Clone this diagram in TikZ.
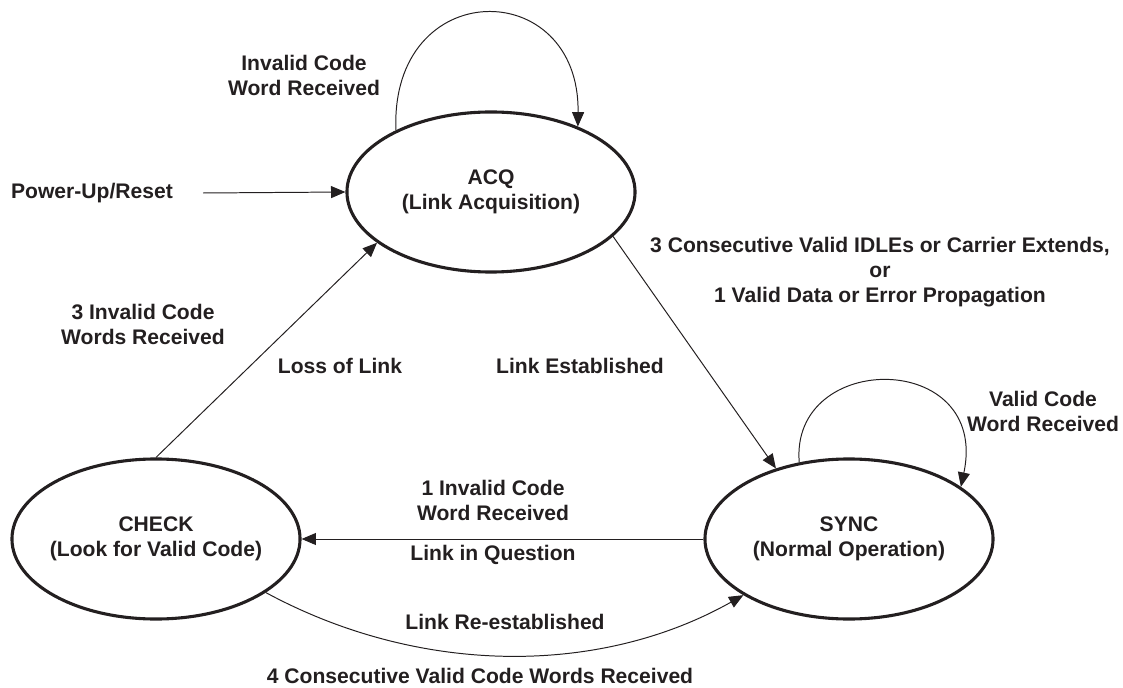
\documentclass[tikz,border=0pt]{standalone}
\usepackage{fontspec}
\setmainfont{Liberation Sans}
\usetikzlibrary{shapes.geometric,arrows.meta}
\definecolor{ink}{HTML}{231F20}

\begin{document}
\begin{tikzpicture}[x=0.025cm,y=-0.025cm,
  state/.style={draw=ink,ellipse,line width=2.2pt,minimum width=7.2cm,minimum height=4cm,inner sep=0pt},
  trans/.style={draw=ink,line width=0.7pt,-{Triangle[length=0.36cm,width=0.3cm]}},
  lbl/.style={text=ink,align=center,font=\fontsize{15}{17.8}\selectfont\bfseries}]

\useasboundingbox (0,0) rectangle (1123,688);

% states:
\node[state,label={[lbl]center:{ACQ\\(Link Acquisition)}}] (acq) at (491,192) {};
\node[state,label={[lbl]center:{CHECK\\(Look for Valid Code)}}] (check) at (156,539) {};
\node[state,label={[lbl]center:{SYNC\\(Normal Operation)}}] (sync) at (849,539) {};

% transitions:
\coordinate (pwr) at (203,193);
\draw[trans] (pwr) -- (acq.west);
\draw[trans] (acq.147) .. controls (390,-25) and (580,-25) .. (acq.37);
\draw[trans] (acq.-20) -- (sync.136);
\draw[trans] (sync.123) .. controls (790,350) and (990,350) .. (sync.25);
\draw[trans] (sync.west) -- (check.east);
\draw[trans] (check.north) -- (acq.-156);
\draw[trans] (check.-26) .. controls (420,676) and (600,676) .. (sync.-152);

% labels:
\node[lbl] (lacqloop) at (304,75) {Invalid Code\\Word Received};
\node[lbl] (lpwr) at (92,193) {Power-Up/Reset};
\node[lbl] (lcons) at (880,272) {3 Consecutive Valid IDLEs or Carrier Extends,\\or\\1 Valid Data or Error Propagation};
\node[lbl] (linv3) at (143,324) {3 Invalid Code\\Words Received};
\node[lbl] (lloss) at (340,366) {Loss of Link};
\node[lbl] (lest) at (580,366) {Link Established};
\node[lbl] (lsyncloop) at (1043,411) {Valid Code\\Word Received};
\node[lbl] (linv1) at (493,500) {1 Invalid Code\\Word Received};
\node[lbl] (lquest) at (493,555) {Link in Question};
\node[lbl] (lre) at (505,622) {Link Re-established};
\node[lbl] (lcons4) at (480,676) {4 Consecutive Valid Code Words Received};

\end{tikzpicture}
\end{document}
